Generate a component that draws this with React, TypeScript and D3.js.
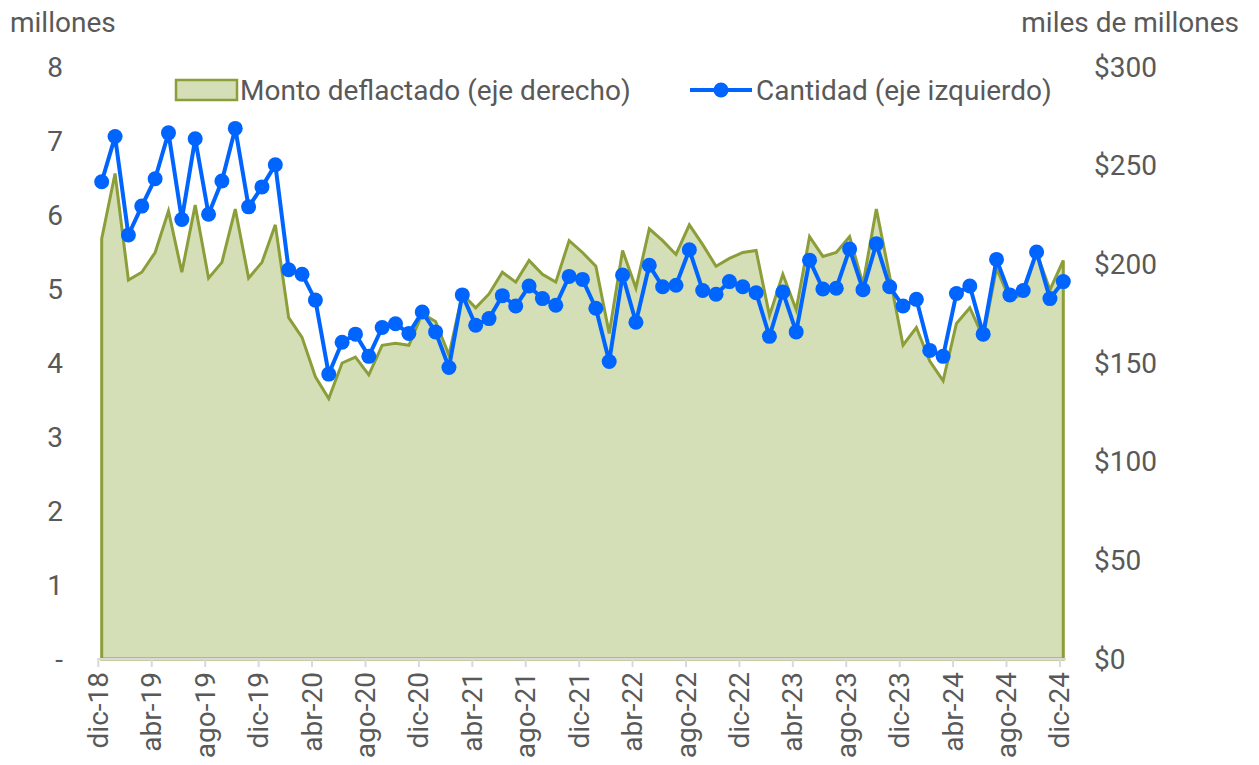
import React from "react";
import * as d3 from "d3";

// monthly series, dic-18 .. dic-24
const months = [
  "dic-18", "ene-19", "feb-19", "mar-19", "abr-19", "may-19", "jun-19", "jul-19", "ago-19", "sep-19", "oct-19", "nov-19",
  "dic-19", "ene-20", "feb-20", "mar-20", "abr-20", "may-20", "jun-20", "jul-20", "ago-20", "sep-20", "oct-20", "nov-20",
  "dic-20", "ene-21", "feb-21", "mar-21", "abr-21", "may-21", "jun-21", "jul-21", "ago-21", "sep-21", "oct-21", "nov-21",
  "dic-21", "ene-22", "feb-22", "mar-22", "abr-22", "may-22", "jun-22", "jul-22", "ago-22", "sep-22", "oct-22", "nov-22",
  "dic-22", "ene-23", "feb-23", "mar-23", "abr-23", "may-23", "jun-23", "jul-23", "ago-23", "sep-23", "oct-23", "nov-23",
  "dic-23", "ene-24", "feb-24", "mar-24", "abr-24", "may-24", "jun-24", "jul-24", "ago-24", "sep-24", "oct-24", "nov-24",
  "dic-24",
];

// Cantidad (millones, eje izquierdo)
const cantidad = [
  6.45, 7.06, 5.73, 6.12, 6.49, 7.11, 5.94, 7.03, 6.01, 6.46, 7.17, 6.11,
  6.38, 6.68, 5.26, 5.2, 4.85, 3.85, 4.28, 4.39, 4.09, 4.48, 4.53, 4.4,
  4.69, 4.42, 3.94, 4.92, 4.51, 4.6, 4.91, 4.77, 5.04, 4.87, 4.78, 5.17,
  5.13, 4.74, 4.02, 5.19, 4.55, 5.32, 5.03, 5.05, 5.53, 4.98, 4.93, 5.1,
  5.03, 4.95, 4.36, 4.96, 4.42, 5.39, 5.0, 5.01, 5.54, 4.99, 5.61, 5.03,
  4.77, 4.86, 4.17, 4.09, 4.94, 5.04, 4.39, 5.4, 4.92, 4.98, 5.5, 4.87,
  5.1,
];

// Monto deflactado (miles de millones, eje derecho)
const monto = [
  213, 246, 192, 196, 206, 227, 196, 230, 193, 201, 228, 193,
  201, 220, 173, 163, 143, 132, 150, 153, 144, 159, 160, 159,
  175, 171, 154, 185, 178, 185, 196, 191, 202, 195, 191, 212,
  206, 199, 165, 207, 188, 218, 212, 205, 220, 210, 199, 203,
  206, 207, 174, 195, 177, 214, 204, 206, 214, 190, 228, 194,
  159, 168, 151, 141, 170, 178, 163, 198, 182, 185, 206, 187,
  202,
];

const leftTicks = [0, 1, 2, 3, 4, 5, 6, 7, 8];
const leftTickLabels = ["-", "1", "2", "3", "4", "5", "6", "7", "8"];
const rightTicks = [0, 50, 100, 150, 200, 250, 300];
const rightTickLabels = ["$0", "$50", "$100", "$150", "$200", "$250", "$300"];
const xTickIdx = d3.range(0, months.length, 4);

const W = 1259;
const H = 765;
const FONT = "Roboto, 'Noto Sans', sans-serif";
const FS = 28;
const TXT = "#595959";
const BLUE = "#0064ff";
const GREEN_FILL = "#d5dfb7";
const GREEN_LINE = "#8b9e3a";

export default function App() {
  const x = d3.scaleLinear().domain([0, months.length - 1]).range([101.7, 1063.3]);
  const yL = d3.scaleLinear().domain([0, 8]).range([659, 67]);
  const yR = d3.scaleLinear().domain([0, 300]).range([659, 67]);

  const area = d3
    .area<number>()
    .x((_, i) => x(i))
    .y0(yR(0))
    .y1((d) => yR(d));
  const line = d3
    .line<number>()
    .x((_, i) => x(i))
    .y((d) => yL(d));

  return (
    <div style={{ position: "absolute", left: 0, top: 0 }}>
      <svg width={W} height={H} style={{ display: "block", background: "#fff" }} fontFamily={FONT}>
        {/* axis titles */}
        <text x={10} y={32} fontSize={FS} fill={TXT}>millones</text>
        <text x={1239} y={32} fontSize={FS} fill={TXT} textAnchor="end">miles de millones</text>

        {/* left ticks */}
        {leftTicks.map((t, i) => (
          <text key={"l" + t} x={63} y={yL(t)} fontSize={FS} fill={TXT} textAnchor="end" dominantBaseline="central">
            {leftTickLabels[i]}
          </text>
        ))}
        {/* right ticks */}
        {rightTicks.map((t, i) => (
          <text key={"r" + t} x={1094} y={yR(t)} fontSize={FS} fill={TXT} dominantBaseline="central">
            {rightTickLabels[i]}
          </text>
        ))}

        {/* area */}
        <path d={area(monto) || ""} fill={GREEN_FILL} stroke={GREEN_LINE} strokeWidth={3} strokeLinejoin="miter" />

        {/* x axis */}
        <line x1={x(-0.33)} x2={x(months.length - 0.8)} y1={yL(0)} y2={yL(0)} stroke="#d9d9d9" strokeWidth={2} />
        {xTickIdx.map((i) => {
          const tx = x(i - 0.25);
          return (
            <g key={"x" + i}>
              <line x1={tx} x2={tx} y1={yL(0)} y2={yL(0) + 8} stroke="#d9d9d9" strokeWidth={2} />
              <text
                transform={`translate(${tx},672) rotate(-90)`}
                fontSize={FS}
                fill={TXT}
                textAnchor="end"
                dominantBaseline="central"
              >
                {months[i]}
              </text>
            </g>
          );
        })}

        {/* line + markers */}
        <path d={line(cantidad) || ""} fill="none" stroke={BLUE} strokeWidth={4} strokeLinejoin="round" />
        {cantidad.map((v, i) => (
          <circle key={"c" + i} cx={x(i)} cy={yL(v)} r={7.5} fill={BLUE} />
        ))}

        {/* legend */}
        <rect x={176} y={80} width={61} height={20} fill={GREEN_FILL} stroke={GREEN_LINE} strokeWidth={2.5} />
        <text x={240} y={90} fontSize={FS} fill={TXT} dominantBaseline="central">Monto deflactado (eje derecho)</text>
        <line x1={690} x2={752} y1={90} y2={90} stroke={BLUE} strokeWidth={4} />
        <circle cx={721} cy={90} r={7.5} fill={BLUE} />
        <text x={756} y={90} fontSize={FS} fill={TXT} dominantBaseline="central">Cantidad (eje izquierdo)</text>
      </svg>
    </div>
  );
}
